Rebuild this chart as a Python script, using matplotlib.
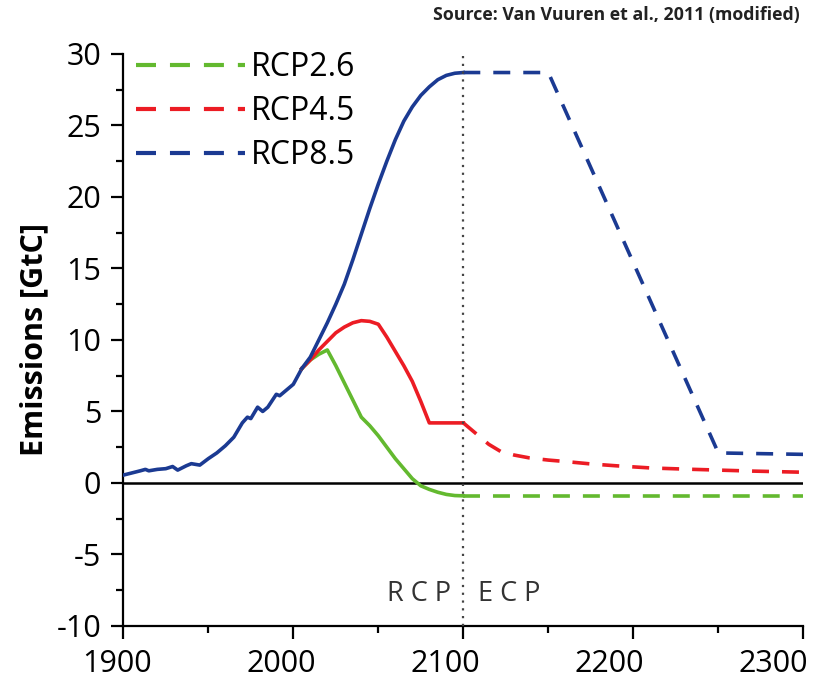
import numpy as np
import matplotlib
matplotlib.use("Agg")
import matplotlib.pyplot as plt
from matplotlib.lines import Line2D
from matplotlib.ticker import MultipleLocator
from matplotlib.transforms import ScaledTranslation

plt.rcParams["font.family"] = ["Open Sans", "DejaVu Sans"]
plt.rcParams["axes.unicode_minus"] = False

# historical emissions (GtC)
hist_years = [1900, 1905, 1910, 1913, 1915, 1920, 1925, 1929, 1932, 1937, 1940, 1945,
              1950, 1955, 1960, 1965, 1970, 1973, 1975, 1979, 1982, 1985, 1990, 1992,
              1995, 2000, 2005]
hist_vals = [0.55, 0.7, 0.85, 0.95, 0.85, 0.95, 1.0, 1.15, 0.9, 1.2, 1.35, 1.25,
             1.7, 2.1, 2.6, 3.2, 4.2, 4.6, 4.5, 5.3, 5.0, 5.3, 6.2, 6.1,
             6.4, 6.9, 8.0]

# RCP period 2005-2100
rcp_years = [2005, 2010, 2015, 2020, 2025, 2030, 2035, 2040, 2045, 2050, 2055,
             2060, 2065, 2070, 2075, 2080, 2085, 2090, 2095, 2100]
rcp26 = [8.0, 8.6, 9.0, 9.3, 8.2, 7.0, 5.8, 4.6, 4.0, 3.3, 2.5,
         1.7, 1.0, 0.3, -0.2, -0.45, -0.65, -0.8, -0.88, -0.9]
rcp45 = [8.0, 8.6, 9.3, 9.9, 10.5, 10.9, 11.2, 11.35, 11.3, 11.1, 10.2,
         9.2, 8.2, 7.1, 5.7, 4.2, 4.2, 4.2, 4.2, 4.2]
rcp85 = [8.0, 8.8, 10.0, 11.2, 12.5, 13.9, 15.6, 17.4, 19.2, 20.9, 22.5,
         24.0, 25.3, 26.3, 27.1, 27.7, 28.2, 28.5, 28.65, 28.7]

# ECP extensions 2100-2300
ecp26_years = [2100, 2300]
ecp26 = [-0.9, -0.9]
ecp45_years = [2100, 2107, 2115, 2122, 2130, 2139, 2150, 2160, 2175, 2190,
               2210, 2230, 2250, 2270, 2300]
ecp45 = [4.2, 3.5, 2.7, 2.2, 1.95, 1.75, 1.6, 1.5, 1.33, 1.2,
         1.05, 0.97, 0.9, 0.83, 0.75]
ecp85_years = [2100, 2150, 2250, 2300]
ecp85 = [28.7, 28.7, 2.1, 2.0]

labels = ["RCP2.6", "RCP4.5", "RCP8.5"]
year_ticks = [1900, 2000, 2100, 2200, 2300]
green = "#63b92f"
red = "#ec1c24"
blue = "#1b3a92"
colors = [green, red, blue]

fig = plt.figure(figsize=(8.22, 6.81), dpi=100)
ax = fig.add_axes([0.150, 0.0808, 0.8273, 0.840])

lw = 2.6
dash = (4.7, 3.6)

ax.axhline(0, color="black", lw=1.8, zorder=1)
ax.plot([2100, 2100], [-10, 30], color="#444444", lw=1.6, ls=(0, (1, 2.5)), zorder=5,
        clip_on=False)

ax.plot(hist_years, hist_vals, color=blue, lw=lw, zorder=3)
ax.plot(rcp_years, rcp26, color=green, lw=lw, zorder=3)
ax.plot(rcp_years, rcp45, color=red, lw=lw, zorder=3)
ax.plot(rcp_years, rcp85, color=blue, lw=lw, zorder=3)

ax.plot(ecp26_years, ecp26, color=green, lw=lw, dashes=dash, zorder=3)
ax.plot(ecp45_years, ecp45, color=red, lw=lw, dashes=dash, zorder=3)
ax.plot(ecp85_years, ecp85, color=blue, lw=lw, dashes=dash, zorder=3)

handles = [Line2D([0], [0], color=c, lw=3, dashes=(4.8, 3.35)) for c in colors]
ax.legend(handles, labels, loc="upper left", bbox_to_anchor=(0.0, 1.028),
          frameon=False, fontsize=23, handlelength=3.4, handletextpad=0.2,
          labelspacing=0.35, borderaxespad=0)

ax.set_xlim(1900, 2300)
ax.set_ylim(-10, 30)
ax.set_xticks(year_ticks)
ax.xaxis.set_minor_locator(MultipleLocator(50))
ax.yaxis.set_major_locator(MultipleLocator(5))
ax.yaxis.set_minor_locator(MultipleLocator(2.5))

for s in ["top", "right"]:
    ax.spines[s].set_visible(False)
for s in ["left", "bottom"]:
    ax.spines[s].set_linewidth(1.6)

ax.tick_params(which="major", length=9, width=1.6, labelsize=22, colors="black")
ax.tick_params(which="minor", length=5, width=1.6)
ax.tick_params(axis="y", pad=7)
ax.tick_params(axis="x", labelbottom=False)

# year labels in the original sit a little left of their ticks, more so to the right
shifts = [-6, -12, -18, -24, -30]
for yr, dx in zip(year_ticks, shifts):
    tr = ax.get_xaxis_transform() + ScaledTranslation(dx / 100, -0.465, fig.dpi_scale_trans)
    ax.text(yr, 0, str(yr), transform=tr, ha="center", va="baseline", fontsize=22,
            clip_on=False)

ax.set_ylabel("Emissions [GtC]", fontsize=22, fontweight="bold", labelpad=5)

ax.text(2092.5, -7.75, "R C P", ha="right", va="center", fontsize=19.5, color="#333333")
ax.text(2108.5, -7.75, "E C P", ha="left", va="center", fontsize=19.5, color="#333333")

fig.text(0.973, 0.978, "Source: Van Vuuren et al., 2011 (modified)", ha="right", va="center",
         fontsize=12.8, fontweight="bold", color="#222222")

fig.savefig("out.png", dpi=100)
